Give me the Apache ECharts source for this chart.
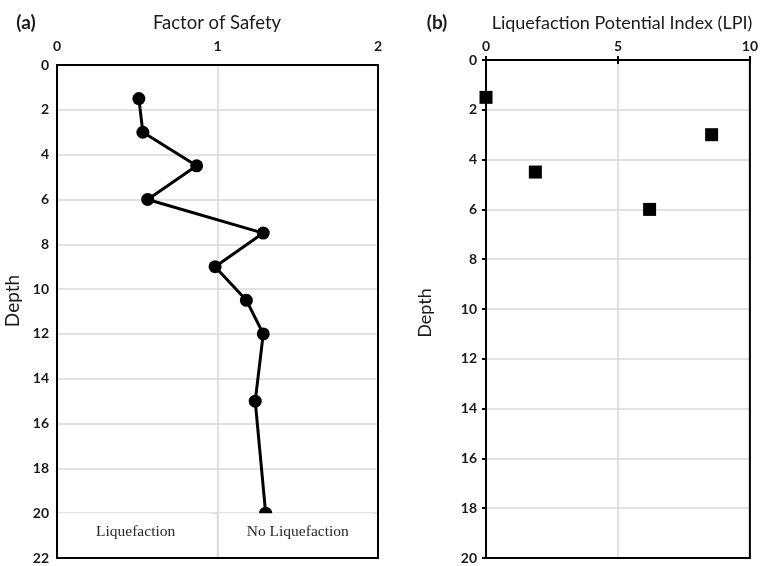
<!DOCTYPE html>
<html><head><meta charset="utf-8">
<script src="https://cdn.jsdelivr.net/npm/echarts@6/dist/echarts.min.js"></script>
<style>html,body{margin:0;padding:0;background:#fff}#c{width:761px;height:566px}</style>
</head><body><div id="c"></div>
<script>
// Panel (a): Factor of Safety vs depth
const fsDepth = [1.5, 3, 4.5, 6, 7.5, 9, 10.5, 12, 15, 20];
const fsValue = [0.51, 0.535, 0.87, 0.565, 1.285, 0.985, 1.18, 1.285, 1.235, 1.30];
// Panel (b): LPI vs depth
const lpiDepth = [1.5, 3, 4.5, 6];
const lpiValue = [0.0, 8.55, 1.87, 6.2];
const fsTicks = ['0', '1', '2'];
const lpiTicks = ['0', '5', '10'];
const zoneLabels = ['Liquefaction', 'No Liquefaction'];

const FONT = 'Lato';
const TXT = '#1a1a1a';
const lab = {fontFamily: FONT, fontWeight: 'bold', fontSize: 14, color: TXT};
const chart = echarts.init(document.getElementById('c'));

const option = {
  animation: false,
  backgroundColor: '#fff',
  textStyle: {fontFamily: FONT},
  title: [
    {text: 'Factor of Safety', left: 212, top: 9, textAlign: 'center', textStyle: {fontFamily: FONT, fontSize: 18.5, fontWeight: 'normal', color: TXT}},
    {text: '(a)', left: 21, top: 8, textAlign: 'center', textStyle: {fontFamily: FONT, fontSize: 19, fontWeight: 'bold', color: TXT}},
    {text: 'Liquefaction Potential Index (LPI)', left: 617, top: 9, textAlign: 'center', textStyle: {fontFamily: FONT, fontSize: 18, fontWeight: 'normal', color: TXT}},
    {text: '(b)', left: 432, top: 8, textAlign: 'center', textStyle: {fontFamily: FONT, fontSize: 19, fontWeight: 'bold', color: TXT}}
  ],
  grid: [
    {left: 57, top: 65, width: 321, height: 493, show: true, borderColor: '#000', borderWidth: 2, backgroundColor: 'transparent', z: 5},
    {left: 486, top: 60, width: 265, height: 498, show: true, borderColor: '#000', borderWidth: 2, backgroundColor: 'transparent', z: 5}
  ],
  xAxis: [
    {gridIndex: 0, type: 'value', position: 'top', min: 0, max: 2, interval: 1,
     axisLine: {show: false}, axisTick: {show: false},
     axisLabel: Object.assign({margin: 12, formatter: v => fsTicks[Math.round(v)]}, lab),
     splitLine: {lineStyle: {color: '#d9d9d9', width: 1.5}}},
    {gridIndex: 1, type: 'value', position: 'top', min: 0, max: 10, interval: 5,
     axisLine: {show: true, lineStyle: {color: '#000', width: 2}}, axisTick: {show: true, length: 4, lineStyle: {color: '#000', width: 2}},
     axisLabel: Object.assign({margin: 7, formatter: v => lpiTicks[Math.round(v / 5)]}, lab),
     splitLine: {lineStyle: {color: '#d9d9d9', width: 1.5}}},
    {gridIndex: 1, type: 'value', position: 'top', min: 0, max: 10, interval: 5,
     axisLine: {show: false}, axisTick: {show: true, inside: true, length: 4, lineStyle: {color: '#000', width: 2}},
     axisLabel: {show: false}, splitLine: {show: false}}
  ],
  yAxis: [
    {gridIndex: 0, type: 'value', inverse: true, min: 0, max: 22, interval: 2,
     axisLine: {show: false}, axisTick: {show: false},
     axisLabel: Object.assign({margin: 8}, lab),
     splitLine: {lineStyle: {color: '#d9d9d9', width: 1.5}}},
    {gridIndex: 1, type: 'value', inverse: true, min: 0, max: 20, interval: 2,
     axisLine: {show: true, lineStyle: {color: '#000', width: 2}}, axisTick: {show: true, length: 4, lineStyle: {color: '#000', width: 2}},
     axisLabel: Object.assign({margin: 9}, lab),
     splitLine: {lineStyle: {color: '#d9d9d9', width: 1.5}}},
    {gridIndex: 1, type: 'value', inverse: true, min: 0, max: 20, interval: 2,
     axisLine: {show: false}, axisTick: {show: true, inside: true, length: 4, lineStyle: {color: '#000', width: 2}},
     axisLabel: {show: false}, splitLine: {show: false}}
  ],
  series: [
    {type: 'line', xAxisIndex: 0, yAxisIndex: 0, data: fsValue.map((v, i) => [v, fsDepth[i]]),
     symbol: 'circle', symbolSize: 13, showSymbol: true,
     lineStyle: {color: '#000', width: 3}, itemStyle: {color: '#000', opacity: 1}, z: 3},
    {type: 'scatter', xAxisIndex: 1, yAxisIndex: 1, data: lpiValue.map((v, i) => [v, lpiDepth[i]]),
     symbol: 'rect', symbolSize: 13, itemStyle: {color: '#000', opacity: 1}, z: 3}
  ]
};
chart.setOption(option);

const elements = [];
// rotated "Depth" axis titles
elements.push({type: 'text', x: 13, y: 301, rotation: Math.PI / 2, z: 6,
  style: {text: 'Depth', font: '19px Lato', fill: TXT, textAlign: 'center', textVerticalAlign: 'middle'}});
elements.push({type: 'text', x: 425, y: 313, rotation: Math.PI / 2, z: 6,
  style: {text: 'Depth', font: '18px Lato', fill: TXT, textAlign: 'center', textVerticalAlign: 'middle'}});

// zone annotation boxes in panel (a), placed through the axes' own scale
const p = (x, y) => chart.convertToPixel({gridIndex: 0}, [x, y]);
const boxes = [[0, 0.96], [1.005, 1.97]];
boxes.forEach((b, i) => {
  const a = p(b[0], 20), c = p(b[1], 22);
  const x0 = a[0] + 1, x1 = c[0], y0 = a[1], y1 = c[1] - 1;
  elements.push({type: 'rect', z: 4, shape: {x: x0, y: y0, width: x1 - x0, height: y1 - y0}, style: {fill: '#fff'}});
});
const mids = [0.49, 1.5];
mids.forEach((m, i) => {
  const q = p(m, 20.85);
  elements.push({type: 'text', z: 6, x: q[0], y: q[1],
    style: {text: zoneLabels[i], font: '15.5px "Liberation Serif"', fill: '#262626', textAlign: 'center', textVerticalAlign: 'middle'}});
});
// keep the vertical gridline at FS = 1 visible through the boxes
const v0 = p(1, 20), v1 = p(1, 22);
elements.push({type: 'line', z: 4, shape: {x1: v0[0], y1: v0[1], x2: v1[0], y2: v1[1]}, style: {stroke: '#d9d9d9', lineWidth: 1.5}});
chart.setOption({graphic: elements});
</script></body></html>
